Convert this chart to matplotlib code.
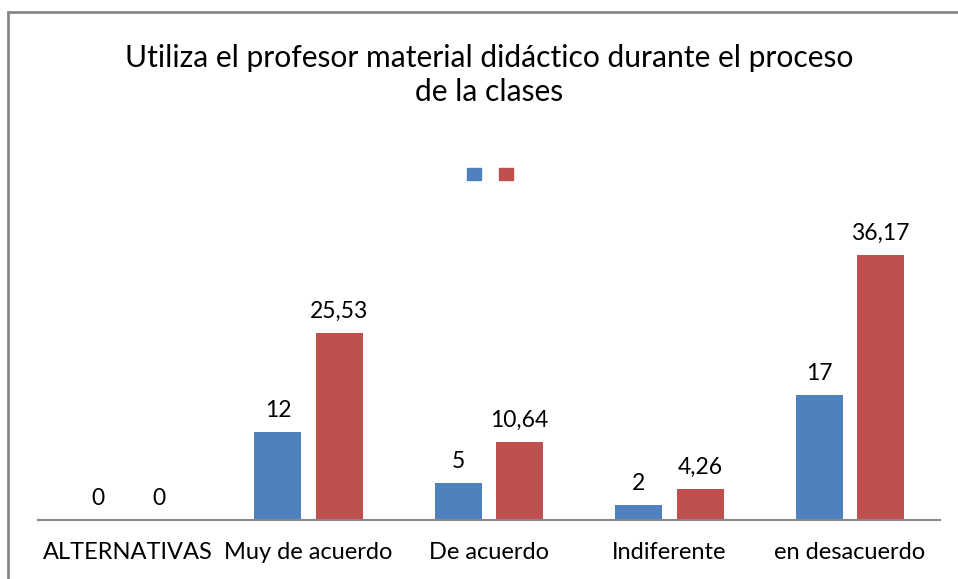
import matplotlib
matplotlib.use("Agg")
import matplotlib.pyplot as plt
from matplotlib.patches import Rectangle, Patch
import numpy as np

plt.rcParams["font.family"] = ["Lato", "DejaVu Sans"]

# data
categories = ["ALTERNATIVAS", "Muy de acuerdo", "De acuerdo", "Indiferente", "en desacuerdo"]
serie_a = [0, 12, 5, 2, 17]
serie_b = [0, 25.53, 10.64, 4.26, 36.17]
series_names = ["", ""]

BLUE = "#4F81BD"
RED = "#C0504D"
GRAY = "#878787"

W, H = 958, 579
fig = plt.figure(figsize=(W / 100, H / 100), dpi=100)
ax = fig.add_axes([38 / W, (H - 520) / H, (940 - 38) / W, (520 - 227) / H])

x = np.arange(len(categories))
bw = 0.26
off = 0.17
b1 = ax.bar(x - off, serie_a, bw, color=BLUE, label=series_names[0])
b2 = ax.bar(x + off, serie_b, bw, color=RED, label=series_names[1])


def fmt(v):
    return f"{v:g}".replace(".", ",")


ax.bar_label(b1, labels=[fmt(v) for v in serie_a], padding=8, fontsize=16.5)
ax.bar_label(b2, labels=[fmt(v) for v in serie_b], padding=8, fontsize=16.5)

ax.set_xlim(-0.5, len(categories) - 0.5)
ax.set_ylim(0, 40)
ax.set_yticks([])
ax.set_xticks(x)
ax.set_xticklabels(categories, fontsize=17)
ax.tick_params(axis="x", length=0, pad=16)
for s in ["top", "left", "right"]:
    ax.spines[s].set_visible(False)
ax.spines["bottom"].set_color(GRAY)
ax.spines["bottom"].set_linewidth(1.5)

fig.text(489 / W, 1 - 75 / H,
         "Utiliza el profesor material didáctico durante el proceso\nde la clases",
         ha="center", va="center", fontsize=21.6, linespacing=1.3)

handles = [Patch(color=BLUE), Patch(color=RED)]
fig.legend(handles, series_names, loc="center", bbox_to_anchor=(490 / W, 1 - 174 / H),
           ncol=2, frameon=False, handlelength=1.0, handleheight=1.0,
           handletextpad=0.0, columnspacing=1.3)

# chart border
fig.patches.append(Rectangle((8 / W, -0.1), 1.2, 1 - 12 / H + 0.1, transform=fig.transFigure,
                             fill=False, edgecolor=GRAY, linewidth=2))

fig.savefig("out.png", dpi=100, facecolor="white")
